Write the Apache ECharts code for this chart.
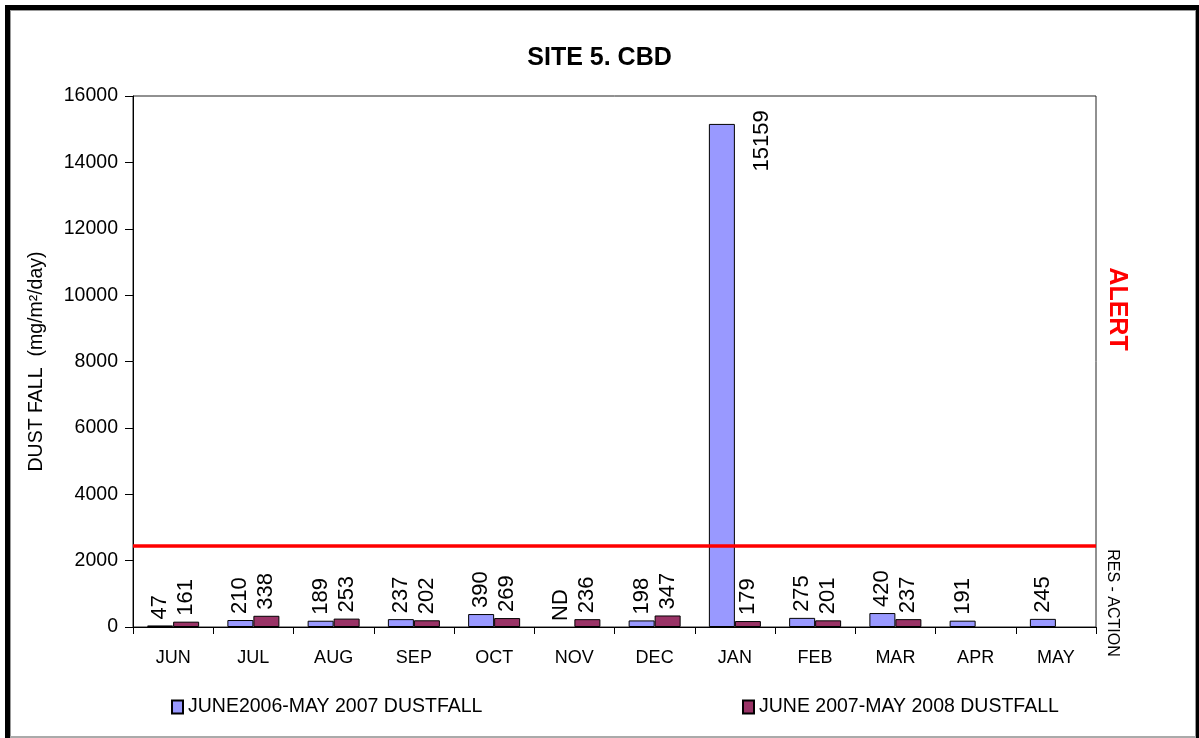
<!DOCTYPE html>
<html>
<head>
<meta charset="utf-8">
<script src="https://cdn.jsdelivr.net/npm/echarts@6/dist/echarts.min.js"></script>
<style>
html,body{margin:0;padding:0;background:#fff;}
#chart{width:1199px;height:738px;}
</style>
</head>
<body>
<div id="chart"></div>
<script>
const months = ['JUN','JUL','AUG','SEP','OCT','NOV','DEC','JAN','FEB','MAR','APR','MAY'];
const dust0607 = [47,210,189,237,390,null,198,15159,275,420,191,245];
const dust0708 = [161,338,253,202,269,236,347,179,201,237,null,null];
const seriesNames = ['JUNE2006-MAY 2007 DUSTFALL','JUNE 2007-MAY 2008 DUSTFALL'];
const alertLevel = 2450;
const yTicks = {min:0, max:16000, interval:2000};

const FONT = '"Liberation Sans", Arial, sans-serif';

const baseLabel = {
  show: true, position: 'top', rotate: 90, align: 'left', verticalAlign: 'middle',
  distance: 6, color: '#000', fontSize: 22, fontFamily: FONT
};

const data1 = dust0607.map(v => {
  if (v === null) return {value: 0, itemStyle: {borderWidth: 0, opacity: 0}, label: {formatter: 'ND', opacity: 1}};
  if (v > yTicks.max * 0.9) return {value: v, label: {align: 'center', distance: 0, offset: [-17, 40]}};
  return v;
});
const data2 = dust0708.map(v => v === null ? null : v);

const chart = echarts.init(document.getElementById('chart'));
chart.setOption({
  animation: false,
  backgroundColor: '#fff',
  title: {
    text: 'SITE 5. CBD', left: 'center', top: 41,
    textStyle: {fontFamily: FONT, fontWeight: 'bold', fontSize: 25, color: '#000'}
  },
  legend: [
    {data: [seriesNames[0]], left: 166, top: 692, itemWidth: 11, itemHeight: 13, icon: 'rect',
     textStyle: {fontFamily: FONT, fontSize: 19.5, color: '#000'}},
    {data: [seriesNames[1]], left: 737, top: 692, itemWidth: 11, itemHeight: 13, icon: 'rect',
     textStyle: {fontFamily: FONT, fontSize: 19.5, color: '#000'}}
  ],
  grid: {left: 133, right: 103, top: 96, bottom: 111, show: true, borderColor: '#222', borderWidth: 1, containLabel: false},
  xAxis: {
    type: 'category', data: months,
    axisLine: {lineStyle: {color: '#000', width: 1}},
    axisTick: {show: true, length: 7, lineStyle: {color: '#000'}},
    axisLabel: {color: '#000', fontSize: 18, fontFamily: FONT, margin: 22}
  },
  yAxis: {
    type: 'value', min: yTicks.min, max: yTicks.max, interval: yTicks.interval,
    name: 'DUST FALL  (mg/m²/day)', nameLocation: 'middle', nameRotate: 90, nameGap: 86,
    nameTextStyle: {color: '#000', fontSize: 19.5, fontFamily: FONT},
    axisLine: {show: true, lineStyle: {color: '#000'}},
    axisTick: {show: true, length: 8, lineStyle: {color: '#000'}},
    axisLabel: {color: '#000', fontSize: 19.5, fontFamily: FONT, margin: 15, formatter: v => String(v)},
    splitLine: {show: false}
  },
  series: [
    {
      name: seriesNames[0], type: 'bar', data: data1, barWidth: 26, barGap: '0%',
      itemStyle: {color: '#9999FF', borderColor: '#000', borderWidth: 1},
      label: baseLabel,
      markLine: {
        silent: true, symbol: ['none','none'],
        label: {show: false},
        lineStyle: {color: '#FF0000', width: 3.5, type: 'solid'},
        data: [{yAxis: alertLevel}]
      }
    },
    {
      name: seriesNames[1], type: 'bar', data: data2, barWidth: 26,
      itemStyle: {color: '#993366', borderColor: '#000', borderWidth: 1},
      label: baseLabel
    }
  ],
  graphic: [
    {type: 'rect', shape: {x: 5, y: 5, width: 5, height: 733}, style: {fill: '#000'}, silent: true},
    {type: 'rect', shape: {x: 5, y: 5, width: 1194, height: 5}, style: {fill: '#000'}, silent: true},
    {type: 'rect', shape: {x: 1196, y: 5, width: 3, height: 733}, style: {fill: '#000'}, silent: true},
    {type: 'rect', shape: {x: 10, y: 10, width: 1, height: 727}, style: {fill: '#999'}, silent: true},
    {type: 'rect', shape: {x: 10, y: 10, width: 1186, height: 1}, style: {fill: '#999'}, silent: true},
    {type: 'rect', shape: {x: 1195, y: 10, width: 1, height: 727}, style: {fill: '#999'}, silent: true},
    {type: 'rect', shape: {x: 10, y: 736, width: 1186, height: 2}, style: {fill: '#aaa'}, silent: true},
    {type: 'text', x: 1117, y: 309, rotation: -Math.PI/2,
     style: {text: 'ALERT', fill: '#FF0000', font: 'bold 25px ' + FONT, align: 'center', verticalAlign: 'middle'}},
    {type: 'text', x: 1112, y: 603, rotation: -Math.PI/2,
     style: {text: 'RES - ACTION', fill: '#000', font: '16px ' + FONT, align: 'center', verticalAlign: 'middle'}}
  ]
});
</script>
</body>
</html>
